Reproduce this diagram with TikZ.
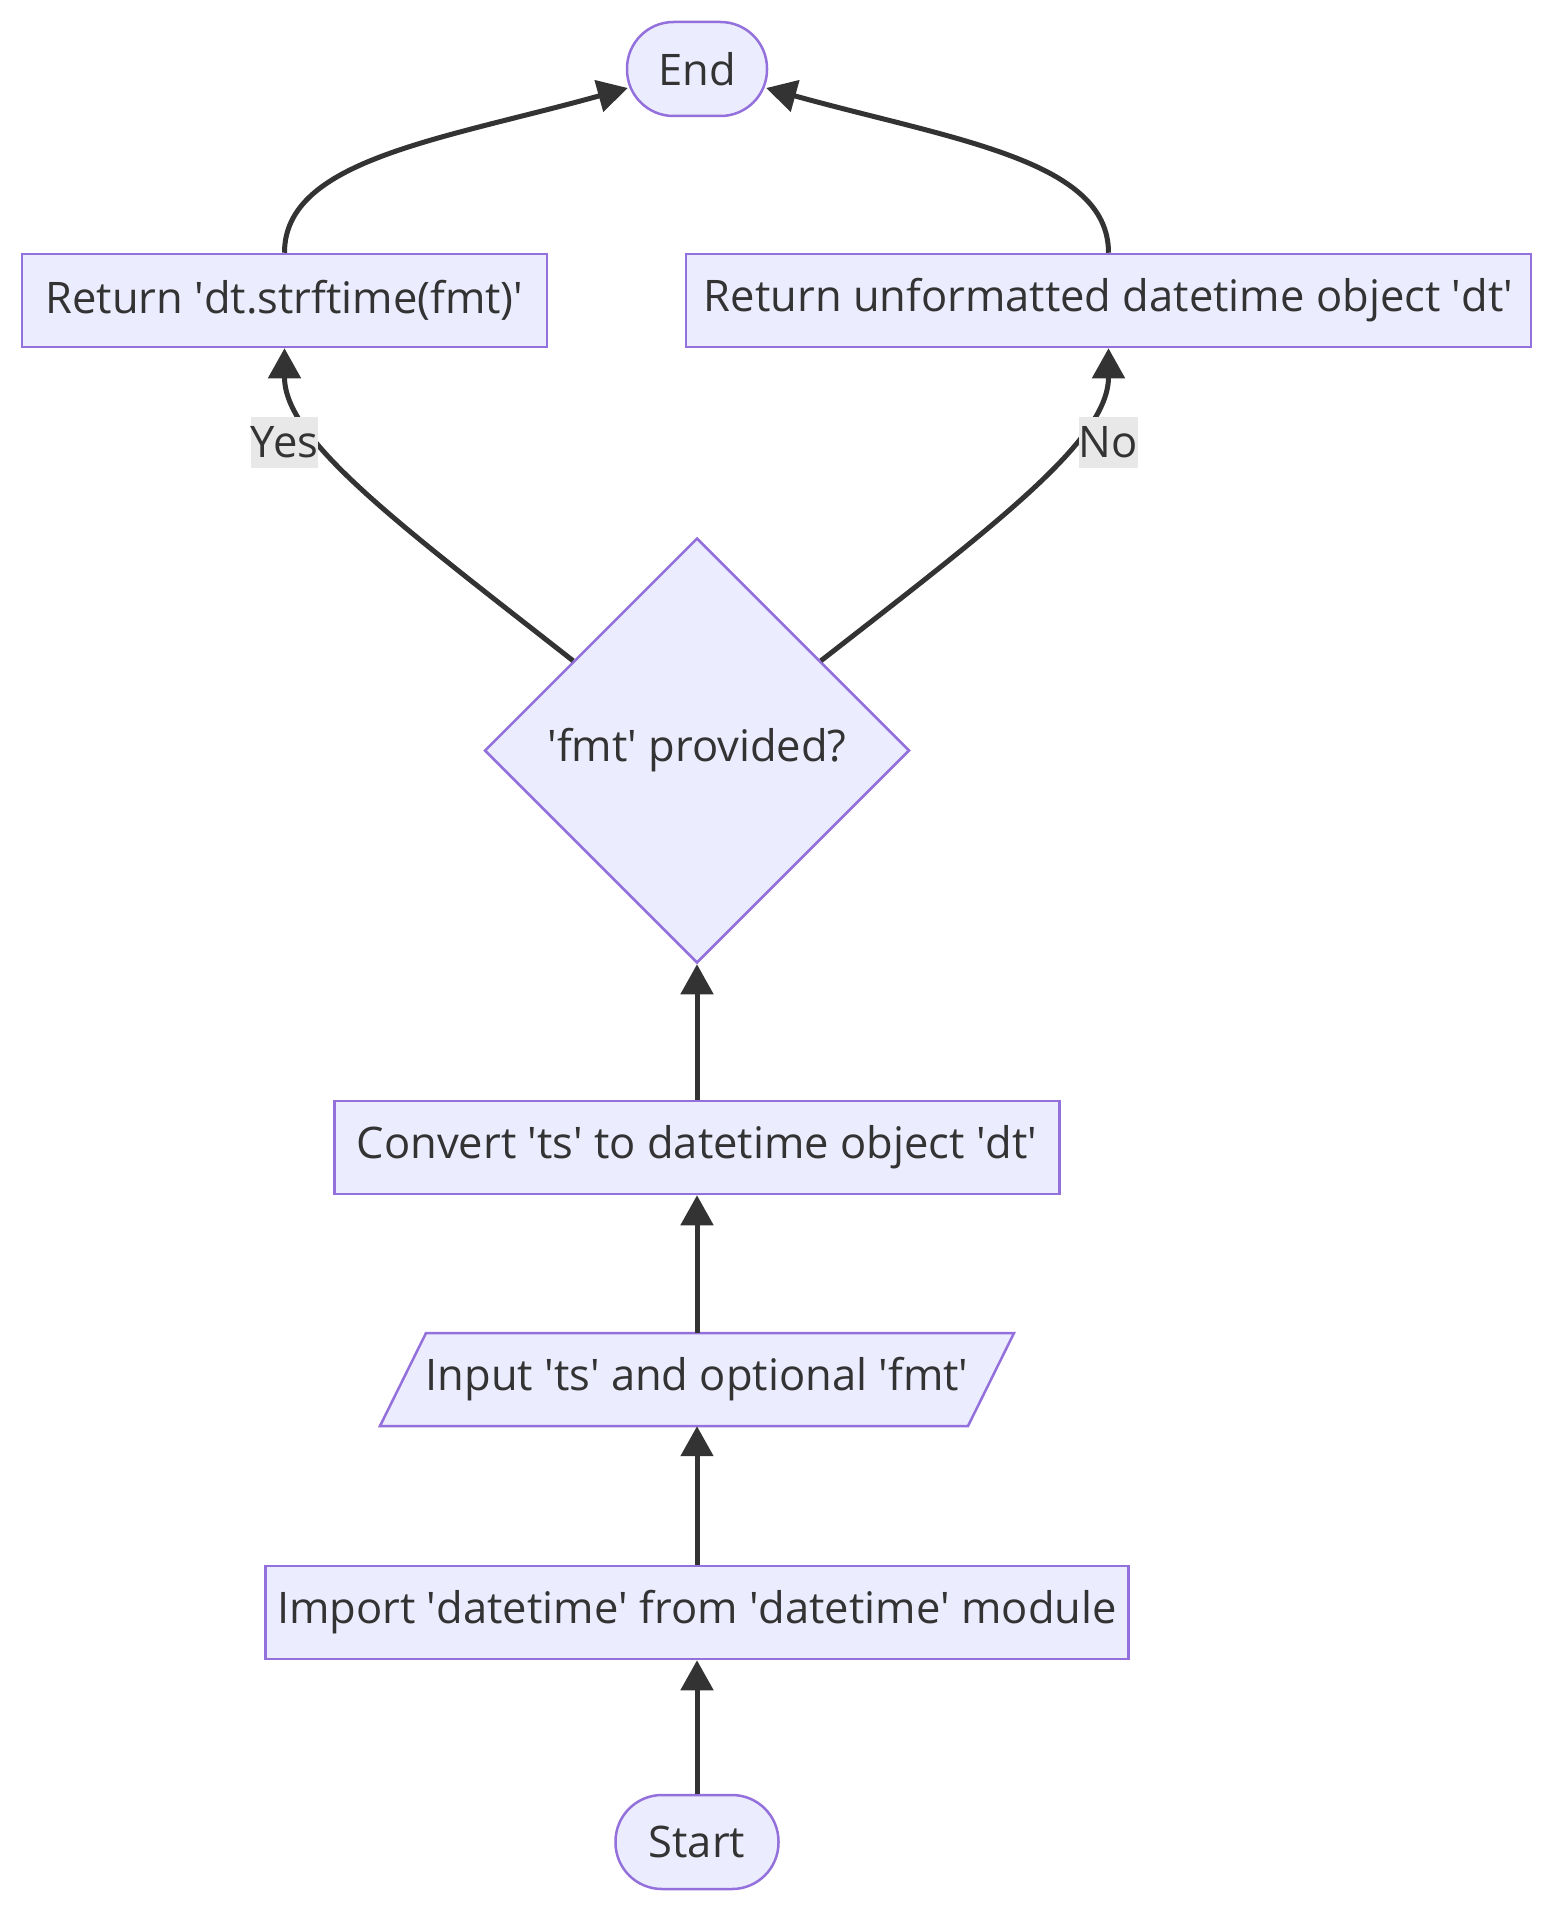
\documentclass[tikz,border=0pt]{standalone}
\usepackage{fontspec}
\newfontfamily\nodefont{Open Sans}
\usetikzlibrary{shapes.geometric,arrows.meta,calc}
\definecolor{nodefill}{HTML}{ECECFF}
\definecolor{nodeline}{HTML}{9370DB}
\definecolor{ink}{HTML}{333333}
\definecolor{lblbg}{HTML}{E8E8E8}
\newcommand\myq{\textquotesingle}
\begin{document}
\begin{tikzpicture}[x=1pt,y=-1pt,
  txt/.style={text=ink, font=\nodefont\fontsize{43.5}{52}\selectfont},
  box/.style={txt, draw=nodeline, fill=nodefill, line width=2.5pt, inner sep=0pt, minimum height=93pt},
  term/.style={box, rounded corners=46.5pt, minimum height=94pt},
  decision/.style={txt, diamond, aspect=1, draw=nodeline, fill=nodefill, line width=2.5pt, inner sep=0pt, minimum width=425pt, minimum height=425pt},
  pbox/.style={draw=nodeline, fill=nodefill, line width=2.5pt},
  flow/.style={draw=ink, line width=5pt, -{Triangle[length=30pt,width=32pt]}},
  lbl/.style={txt, fill=lblbg, inner xsep=0pt, inner ysep=0pt, minimum height=51pt}
]
\useasboundingbox (0,0) rectangle (1568,1932);
\fill[white] (0,0) rectangle (1568,1932);

% parallelogram outline for the input node
\draw[pbox] (426,1333) -- (1014,1333) -- (968,1426) -- (380,1426) -- cycle;

\node[term, minimum width=140pt] (end) at (697,69) {End};
\node[box, minimum width=525pt] (ret1) at (284.5,300.5) {Return \myq dt.strftime(fmt)\myq};
\node[box, minimum width=845pt] (ret2) at (1108.5,300.5) {Return unformatted datetime object \myq dt\myq};
\node[decision] (dec) at (697,750.5) {\myq fmt\myq\ provided?};
\node[box, minimum width=725pt] (conv) at (697,1147.5) {Convert \myq ts\myq\ to datetime object \myq dt\myq};
\node[txt, inner sep=0pt, minimum width=588pt, minimum height=93pt] (input) at (697,1379.5) {Input \myq ts\myq\ and optional \myq fmt\myq};
\node[box, minimum width=863pt] (import) at (697,1612.5) {Import \myq datetime\myq\ from \myq datetime\myq\ module};
\node[term, minimum width=163pt] (start) at (697,1842) {Start};

\draw[flow] (start.north) -- (import.south);
\draw[flow] (import.north) -- (input.south);
\draw[flow] (input.north) -- (conv.south);
\draw[flow] (conv.north) -- (dec.south);
\draw[flow] ($(dec.north)!0.58!(dec.west)$) .. controls (400,525) and (284.5,440) .. (ret1.south);
\draw[flow] ($(dec.north)!0.58!(dec.east)$) .. controls (995,525) and (1108.5,440) .. (ret2.south);
\draw[flow] (ret1.north) .. controls (284.5,160) and (440,140) .. ($(end.west)+(2,19)$);
\draw[flow] (ret2.north) .. controls (1108.5,160) and (954,140) .. ($(end.east)+(-2,19)$);

\node[lbl] (yes) at (284.5,442.5) {Yes};
\node[lbl] (no) at (1108.5,442.5) {No};
\end{tikzpicture}
\end{document}
